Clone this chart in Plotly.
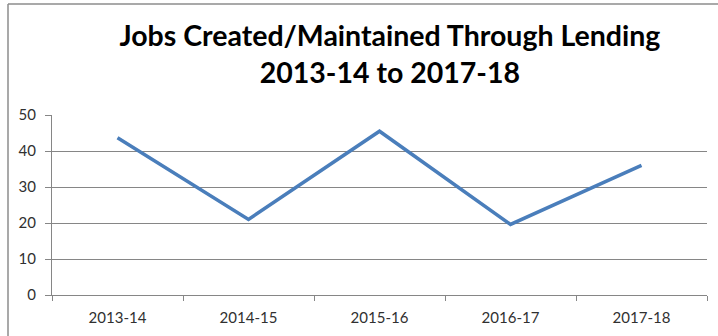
import plotly.graph_objects as go

# Fiscal years and jobs created/maintained through lending
years = ["2013-14", "2014-15", "2015-16", "2016-17", "2017-18"]
jobs = [43.7, 21.0, 45.5, 19.6, 36.0]
y_ticks = [0, 10, 20, 30, 40, 50]

W, H = 718, 336
ML, MR, MT, MB = 52, 11, 115, 41

fig = go.Figure()
fig.add_trace(go.Scatter(
    x=years, y=jobs, mode="lines",
    line=dict(color="#4A7EBB", width=3.5),
    hoverinfo="x+y",
))

axis_gray = "#868686"
label_font = dict(family="Lato, Open Sans, sans-serif", size=15, color="#303030")

fig.update_layout(
    width=W, height=H,
    margin=dict(l=ML, r=MR, t=MT, b=MB),
    paper_bgcolor="white", plot_bgcolor="white",
    showlegend=False,
    title=dict(
        text="Jobs Created/Maintained Through Lending<br>2013-14 to 2017-18",
        font=dict(family="Lato, Open Sans, sans-serif", size=28.5, color="black", weight="bold"),
        x=0.543, xanchor="center", y=0.863, yanchor="middle",
    ),
    xaxis=dict(
        type="category", range=[-0.5, 4.5],
        showline=True, linecolor=axis_gray, linewidth=1,
        ticks="outside", tickson="boundaries", ticklen=5, tickcolor=axis_gray,
        showgrid=False, tickfont=label_font, ticklabelstandoff=9,
        fixedrange=True,
    ),
    yaxis=dict(
        range=[0, 50], tickvals=y_ticks,
        showline=True, linecolor=axis_gray, linewidth=1,
        ticks="outside", ticklen=6, tickcolor=axis_gray,
        showgrid=True, gridcolor=axis_gray, gridwidth=1,
        zeroline=False, tickfont=label_font, ticklabelstandoff=6,
        fixedrange=True,
    ),
)

# Outer chart frame (left and top edges)
pw, ph = W - ML - MR, H - MT - MB
fx = lambda px: (px - ML) / pw
fy = lambda py: (H - MB - py) / ph
frame = dict(color="#8C8C8C", width=1.5)
fig.add_shape(type="line", xref="paper", yref="paper",
              x0=fx(8), x1=fx(W + 2), y0=fy(4), y1=fy(4), line=frame)
fig.add_shape(type="line", xref="paper", yref="paper",
              x0=fx(8), x1=fx(8), y0=fy(4), y1=fy(H + 2), line=frame)

fig.write_html("out.html")
